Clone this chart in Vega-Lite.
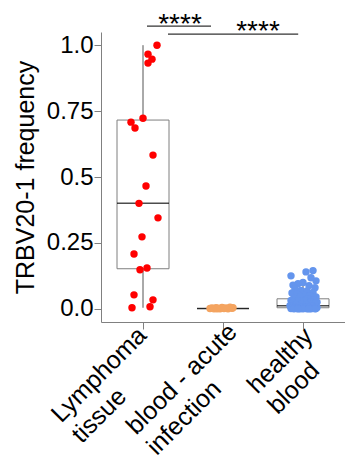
{
  "$schema": "https://vega.github.io/schema/vega-lite/v6.json",
  "width": 244,
  "height": 290,
  "autosize": {"type": "none"},
  "padding": {"left": 101, "top": 32, "right": 0, "bottom": 139},
  "background": "white",
  "config": {
    "font": "Liberation Sans",
    "view": {"stroke": null},
    "axis": {"grid": false, "domainColor": "#808080", "tickColor": "#808080", "labelColor": "black", "titleColor": "black", "labelFont": "Liberation Sans", "titleFont": "Liberation Sans"}
  },
  "datasets": {
    "points": [
      {"group": "Lymphoma tissue", "jitter": 14, "freq": 1.0},
      {"group": "Lymphoma tissue", "jitter": 5, "freq": 0.966},
      {"group": "Lymphoma tissue", "jitter": 9, "freq": 0.947},
      {"group": "Lymphoma tissue", "jitter": 5, "freq": 0.932},
      {"group": "Lymphoma tissue", "jitter": 0, "freq": 0.723},
      {"group": "Lymphoma tissue", "jitter": -12, "freq": 0.708},
      {"group": "Lymphoma tissue", "jitter": -8, "freq": 0.686},
      {"group": "Lymphoma tissue", "jitter": 10, "freq": 0.583},
      {"group": "Lymphoma tissue", "jitter": 3, "freq": 0.466},
      {"group": "Lymphoma tissue", "jitter": -4, "freq": 0.4},
      {"group": "Lymphoma tissue", "jitter": 15, "freq": 0.345},
      {"group": "Lymphoma tissue", "jitter": -1, "freq": 0.273},
      {"group": "Lymphoma tissue", "jitter": -9, "freq": 0.208},
      {"group": "Lymphoma tissue", "jitter": 4, "freq": 0.155},
      {"group": "Lymphoma tissue", "jitter": -3, "freq": 0.148},
      {"group": "Lymphoma tissue", "jitter": -9, "freq": 0.053},
      {"group": "Lymphoma tissue", "jitter": 10, "freq": 0.034},
      {"group": "Lymphoma tissue", "jitter": -11, "freq": 0.004},
      {"group": "Lymphoma tissue", "jitter": 7, "freq": 0.008},
      {"group": "blood - acute infection", "jitter": -13, "freq": 0.001},
      {"group": "blood - acute infection", "jitter": -11, "freq": 0.003},
      {"group": "blood - acute infection", "jitter": -9, "freq": 0.0},
      {"group": "blood - acute infection", "jitter": -7, "freq": 0.004},
      {"group": "blood - acute infection", "jitter": -5, "freq": 0.002},
      {"group": "blood - acute infection", "jitter": -3, "freq": 0.0},
      {"group": "blood - acute infection", "jitter": -1, "freq": 0.005},
      {"group": "blood - acute infection", "jitter": 1, "freq": 0.001},
      {"group": "blood - acute infection", "jitter": 3, "freq": 0.003},
      {"group": "blood - acute infection", "jitter": 5, "freq": 0.0},
      {"group": "blood - acute infection", "jitter": 7, "freq": 0.006},
      {"group": "blood - acute infection", "jitter": 9, "freq": 0.002},
      {"group": "blood - acute infection", "jitter": 10, "freq": 0.004},
      {"group": "blood - acute infection", "jitter": 0, "freq": 0.002},
      {"group": "blood - acute infection", "jitter": -6, "freq": 0.0},
      {"group": "healthy blood", "jitter": -12, "freq": 0.125},
      {"group": "healthy blood", "jitter": 3, "freq": 0.14},
      {"group": "healthy blood", "jitter": 10, "freq": 0.145},
      {"group": "healthy blood", "jitter": 13, "freq": 0.106},
      {"group": "healthy blood", "jitter": 8, "freq": 0.118},
      {"group": "healthy blood", "jitter": -5, "freq": 0.095},
      {"group": "healthy blood", "jitter": -10, "freq": 0.09},
      {"group": "healthy blood", "jitter": 0, "freq": 0.1},
      {"group": "healthy blood", "jitter": 6, "freq": 0.088},
      {"group": "healthy blood", "jitter": 12, "freq": 0.08},
      {"group": "healthy blood", "jitter": -8, "freq": 0.075},
      {"group": "healthy blood", "jitter": -2, "freq": 0.07},
      {"group": "healthy blood", "jitter": 4, "freq": 0.068},
      {"group": "healthy blood", "jitter": 10, "freq": 0.062},
      {"group": "healthy blood", "jitter": -11, "freq": 0.06},
      {"group": "healthy blood", "jitter": -6, "freq": 0.055},
      {"group": "healthy blood", "jitter": 1, "freq": 0.052},
      {"group": "healthy blood", "jitter": 7, "freq": 0.05},
      {"group": "healthy blood", "jitter": 13, "freq": 0.045},
      {"group": "healthy blood", "jitter": -3, "freq": 0.045},
      {"group": "healthy blood", "jitter": -9, "freq": 0.04},
      {"group": "healthy blood", "jitter": 5, "freq": 0.038},
      {"group": "healthy blood", "jitter": 11, "freq": 0.035},
      {"group": "healthy blood", "jitter": -12, "freq": 0.032},
      {"group": "healthy blood", "jitter": -5, "freq": 0.03},
      {"group": "healthy blood", "jitter": 2, "freq": 0.03},
      {"group": "healthy blood", "jitter": 8, "freq": 0.027},
      {"group": "healthy blood", "jitter": 14, "freq": 0.025},
      {"group": "healthy blood", "jitter": -10, "freq": 0.022},
      {"group": "healthy blood", "jitter": -1, "freq": 0.02},
      {"group": "healthy blood", "jitter": 6, "freq": 0.02},
      {"group": "healthy blood", "jitter": 12, "freq": 0.018},
      {"group": "healthy blood", "jitter": -7, "freq": 0.015},
      {"group": "healthy blood", "jitter": 3, "freq": 0.015},
      {"group": "healthy blood", "jitter": 9, "freq": 0.012},
      {"group": "healthy blood", "jitter": -13, "freq": 0.012},
      {"group": "healthy blood", "jitter": -4, "freq": 0.01},
      {"group": "healthy blood", "jitter": 0, "freq": 0.008},
      {"group": "healthy blood", "jitter": 5, "freq": 0.008},
      {"group": "healthy blood", "jitter": 11, "freq": 0.006},
      {"group": "healthy blood", "jitter": 14, "freq": 0.005},
      {"group": "healthy blood", "jitter": -11, "freq": 0.005},
      {"group": "healthy blood", "jitter": -8, "freq": 0.004},
      {"group": "healthy blood", "jitter": -2, "freq": 0.003},
      {"group": "healthy blood", "jitter": 2, "freq": 0.003},
      {"group": "healthy blood", "jitter": 7, "freq": 0.002},
      {"group": "healthy blood", "jitter": 10, "freq": 0.002},
      {"group": "healthy blood", "jitter": -6, "freq": 0.001},
      {"group": "healthy blood", "jitter": -12, "freq": 0.001},
      {"group": "healthy blood", "jitter": 13, "freq": 0.001},
      {"group": "healthy blood", "jitter": 4, "freq": 0.0},
      {"group": "healthy blood", "jitter": -3, "freq": 0.0},
      {"group": "healthy blood", "jitter": 0, "freq": 0.0},
      {"group": "healthy blood", "jitter": 8, "freq": 0.0},
      {"group": "healthy blood", "jitter": -9, "freq": 0.0},
      {"group": "healthy blood", "jitter": 12, "freq": 0.0},
      {"group": "healthy blood", "jitter": -5, "freq": 0.0},
      {"group": "healthy blood", "jitter": 6, "freq": 0.0}
    ],
    "boxes": [
      {"group": "Lymphoma tissue", "lower": 0.004, "q1": 0.152, "median": 0.4, "q3": 0.716, "upper": 1.0},
      {"group": "blood - acute infection", "lower": 0.0, "q1": 0.001, "median": 0.001, "q3": 0.001, "upper": 0.006},
      {"group": "healthy blood", "lower": 0.0, "q1": 0.004, "median": 0.012, "q3": 0.038, "upper": 0.09}
    ],
    "brackets": [
      {"start": 0.05, "end": 0.85, "level": 1.072, "labelPos": 0.4625, "labelLevel": 1.045, "label": "****"},
      {"start": 0.3125, "end": 1.94, "level": 1.042, "labelPos": 1.4375, "labelLevel": 1.019, "label": "****"}
    ]
  },
  "layer": [
    {
      "encoding": {
        "x": {"field": "group", "type": "nominal", "sort": ["Lymphoma tissue", "blood - acute infection", "healthy blood"],
          "scale": {"domain": ["Lymphoma tissue", "blood - acute infection", "healthy blood"], "paddingInner": 0, "paddingOuter": 0.025},
          "axis": {"title": null, "labelAngle": -45, "labelFontSize": 25, "labelLineHeight": 29, "tickSize": 7,
            "labelAlign": "left", "labelBaseline": "top",
            "labelOffset": {"condition": [{"test": "datum.value == 'Lymphoma tissue'", "value": -96}, {"test": "datum.value == 'blood - acute infection'", "value": -101}], "value": -60},
            "labelPadding": {"condition": [{"test": "datum.value == 'Lymphoma tissue'", "value": 80}, {"test": "datum.value == 'blood - acute infection'", "value": 92}], "value": 51},
            "labelExpr": "datum.value == 'Lymphoma tissue' ? ['Lymphoma', 'tissue'] : datum.value == 'blood - acute infection' ? ['blood - acute', 'infection'] : ['healthy', 'blood']"}},
        "y": {"type": "quantitative", "scale": {"domain": [-0.05, 1.05], "nice": false, "zero": false},
          "axis": {"title": "TRBV20-1 frequency", "titleFontSize": 25, "titleFontWeight": "normal", "labelFontSize": 24, "tickSize": 7, "labelPadding": 1,
            "values": [0, 0.25, 0.5, 0.75, 1], "labelExpr": "datum.value == 0 ? '0.0' : datum.value == 1 ? '1.0' : '' + datum.value", "titlePadding": 8}}
      },
      "layer": [
        {
          "data": {"name": "boxes"},
          "mark": {"type": "rule", "color": "#555555", "strokeWidth": 1},
          "encoding": {
            "y": {"field": "lower", "type": "quantitative"},
            "y2": {"field": "upper"}
          }
        },
        {
          "data": {"name": "boxes"},
          "mark": {"type": "bar", "fill": "white", "stroke": "#7f7f7f", "strokeWidth": 1, "width": 52},
          "encoding": {
            "y": {"field": "q1", "type": "quantitative"},
            "y2": {"field": "q3"}
          }
        },
        {
          "data": {"name": "boxes"},
          "mark": {"type": "tick", "color": "black", "size": 52, "thickness": 1.5},
          "encoding": {
            "y": {"field": "median", "type": "quantitative"}
          }
        },
        {
          "data": {"name": "points"},
          "mark": {"type": "circle", "size": 55, "opacity": 1},
          "encoding": {
            "xOffset": {"field": "jitter", "type": "quantitative", "scale": {"domain": [-40, 40]}},
            "y": {"field": "freq", "type": "quantitative"},
            "color": {"field": "group", "type": "nominal", "legend": null,
              "scale": {"domain": ["Lymphoma tissue", "blood - acute infection", "healthy blood"], "range": ["#ff0000", "#f4a460", "#6495ed"]}}
          }
        }
      ]
    },
    {
      "data": {"name": "brackets"},
      "layer": [
        {
          "mark": {"type": "rule", "color": "#333333", "strokeWidth": 1.2},
          "encoding": {
            "x": {"field": "start", "type": "quantitative", "scale": {"domain": [-0.525, 2.525], "nice": false, "zero": false}, "axis": null},
            "x2": {"field": "end"},
            "y": {"field": "level", "type": "quantitative", "scale": {"domain": [-0.05, 1.05], "nice": false, "zero": false}, "axis": null}
          }
        },
        {
          "mark": {"type": "text", "fontSize": 28, "baseline": "alphabetic", "align": "center", "color": "black"},
          "encoding": {
            "x": {"field": "labelPos", "type": "quantitative", "scale": {"domain": [-0.525, 2.525], "nice": false, "zero": false}, "axis": null},
            "y": {"field": "labelLevel", "type": "quantitative", "axis": null},
            "text": {"field": "label"}
          }
        }
      ]
    }
  ],
  "resolve": {"scale": {"x": "independent"}, "axis": {"x": "independent", "y": "independent"}}
}
